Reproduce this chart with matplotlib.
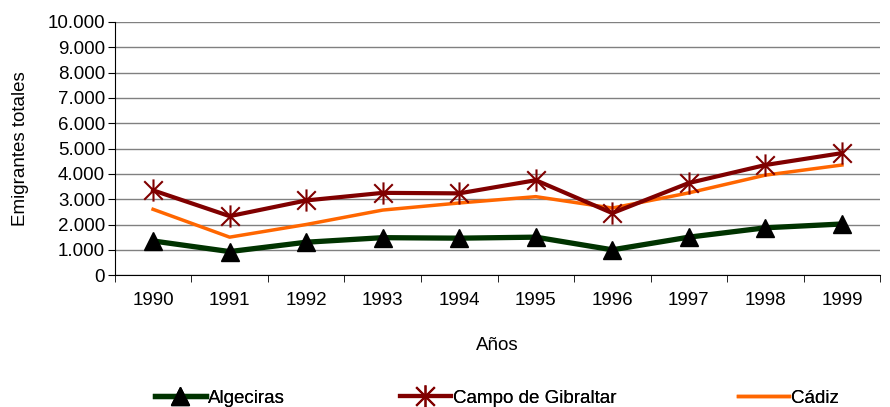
import matplotlib.pyplot as plt
from matplotlib.path import Path
from matplotlib.ticker import FuncFormatter

plt.rcParams['font.family'] = ['Liberation Sans', 'DejaVu Sans']

years = ['1990', '1991', '1992', '1993', '1994', '1995', '1996', '1997', '1998', '1999']
algeciras = [1350, 930, 1300, 1480, 1460, 1500, 1000, 1500, 1870, 2020]
campo = [3350, 2330, 2950, 3250, 3230, 3750, 2450, 3640, 4350, 4820]
cadiz = [2600, 1500, 2000, 2570, 2850, 3100, 2650, 3250, 3950, 4350]

fs = 13.5

# excel-style star: an x with a vertical bar through it
star = Path([(-1, -1), (1, 1), (-1, 1), (1, -1), (0, -1.2), (0, 1.2)],
            [Path.MOVETO, Path.LINETO, Path.MOVETO, Path.LINETO, Path.MOVETO, Path.LINETO])

fig = plt.figure(figsize=(8.9, 4.07), dpi=100)
ax = fig.add_axes([0.129, 0.324, 0.86, 0.622])

x = list(range(len(years)))
l1, = ax.plot(x, algeciras, color='#003300', lw=3.8, marker='^', ms=13,
              mfc='black', mec='black', label='Algeciras', zorder=3)
l2, = ax.plot(x, campo, color='#800000', lw=3, marker=star, ms=16,
              mec='#800000', mew=1.5, label='Campo de Gibraltar', zorder=4)
l3, = ax.plot(x, cadiz, color='#FF6600', lw=2.5, label='Cádiz', zorder=2)

ax.set_xlim(-0.5, len(years) - 0.5)
ax.set_ylim(0, 10000)
ax.set_yticks(range(0, 10001, 1000))
ax.yaxis.set_major_formatter(FuncFormatter(lambda v, p: f'{int(v):,}'.replace(',', '.')))
ax.set_xticks(x)
ax.set_xticklabels(years)
ax.set_xticks([i - 0.5 for i in range(len(years) + 1)], minor=True)
ax.tick_params(axis='x', which='major', length=0, pad=12, labelsize=fs)
ax.tick_params(axis='x', which='minor', length=5, color='black')
ax.tick_params(axis='y', length=5, labelsize=fs, pad=2)

ax.grid(axis='y', color='#808080', lw=1)
ax.set_axisbelow(True)
for s in ['top', 'right']:
    ax.spines[s].set_visible(False)

ax.set_xlabel('Años', fontsize=fs, labelpad=20)
ax.set_ylabel('Emigrantes totales', fontsize=fs, labelpad=13)

# one legend per entry, spaced like the original
for h, x0 in [(l1, 155), (l2, 400), (l3, 738)]:
    leg = fig.legend(handles=[h], loc='center left', bbox_to_anchor=(x0 / 890, 1 - 398 / 407),
                     frameon=False, fontsize=fs, handlelength=2.7, handletextpad=0.15,
                     borderpad=0, borderaxespad=0)
    fig.add_artist(leg)

fig.savefig('out.png', dpi=100)
